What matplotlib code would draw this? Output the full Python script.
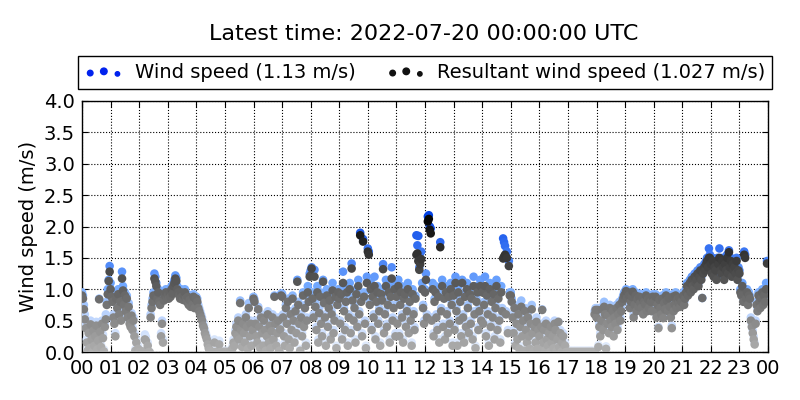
import numpy as np
import matplotlib
matplotlib.use("Agg")
import matplotlib.pyplot as plt
from matplotlib.colors import LinearSegmentedColormap

# 2-minute samples, one row of 30 values per hour (00 .. 23 UTC)
wind_speed = [
    [0.95, 0.9, 0.75, 0.6, 0.45, 0.2, 0.05, 0.35, 0.1, 0.5, 0.25, 0.02, 0.4, 0.15, 0.3,
     0.48, 0.08, 0.22, 0.85, 0.38, 0.12, 0.5, 0.28, 0.04, 0.45, 0.6, 0.8, 1.0, 1.15, 1.37],
    [1.1, 0.95, 0.85, 0.6, 0.5, 0.3, 0.9, 0.75, 1.0, 0.65, 0.85, 0.55, 1.28, 1.05, 0.8,
     0.95, 0.7, 0.9, 0.6, 0.78, 0.5, 0.45, 0.62, 0.4, 0.55, 0.3, 0.05, 0.2, 0.02, 0.1],
    [0.02, 0.0, 0.01, 0.02, 0.0, 0.01, 0.28, 0.24, 0.02, 0.15, 0.01, 0.0, 0.6, 0.75, 0.85,
     0.95, 1.25, 1.2, 1.1, 0.9, 1.0, 0.85, 0.8, 0.3, 0.5, 0.2, 0.88, 0.95, 1.0, 0.9],
    [0.95, 0.9, 1.0, 0.92, 1.05, 0.98, 1.1, 1.15, 1.22, 1.18, 1.05, 1.0, 0.95, 0.9, 1.0,
     0.92, 0.88, 0.95, 1.0, 0.9, 0.85, 0.92, 0.8, 0.88, 0.78, 0.85, 0.8, 0.92, 0.75, 0.88],
    [0.88, 0.85, 0.75, 0.7, 0.65, 0.6, 0.55, 0.48, 0.42, 0.35, 0.3, 0.25, 0.18, 0.1, 0.05,
     0.02, 0.01, 0.0, 0.02, 0.2, 0.01, 0.0, 0.02, 0.01, 0.18, 0.0, 0.02, 0.01, 0.0, 0.02],
    [0.01, 0.02, 0.0, 0.01, 0.02, 0.0, 0.03, 0.05, 0.1, 0.2, 0.15, 0.35, 0.45, 0.3, 0.55,
     0.25, 0.82, 0.4, 0.12, 0.5, 0.35, 0.2, 0.6, 0.45, 0.1, 0.78, 0.3, 0.5, 0.15, 0.4],
    [0.88, 0.84, 0.5, 0.3, 0.2, 0.72, 0.45, 0.1, 0.6, 0.35, 0.15, 0.55, 0.4, 0.05, 0.3,
     0.65, 0.2, 0.48, 0.1, 0.38, 0.6, 0.25, 0.9, 0.5, 0.15, 0.35, 0.55, 0.05, 0.42, 0.93],
    [0.93, 0.6, 0.3, 0.15, 0.75, 0.5, 0.85, 0.25, 0.1, 0.65, 0.4, 0.9, 0.55, 0.2, 0.7,
     0.35, 1.15, 0.8, 0.5, 0.05, 0.6, 0.3, 0.95, 0.45, 0.75, 0.15, 0.55, 1.05, 0.85, 1.25],
    [1.3, 1.35, 0.95, 0.6, 1.31, 0.8, 0.4, 1.05, 0.2, 0.7, 0.95, 0.5, 0.3, 1.15, 0.85,
     0.6, 0.15, 1.0, 0.45, 0.75, 0.9, 0.25, 0.65, 1.1, 0.35, 0.55, 0.95, 0.1, 0.8, 1.0],
    [0.9, 0.5, 1.0, 0.25, 1.28, 0.7, 0.4, 0.85, 1.05, 0.15, 0.6, 1.1, 0.35, 1.41, 0.9,
     0.55, 0.75, 0.2, 1.0, 0.45, 1.15, 0.65, 1.9, 0.85, 0.3, 1.8, 0.95, 0.5, 0.1, 1.2],
    [1.65, 1.6, 0.8, 1.1, 0.4, 0.95, 0.6, 1.2, 0.25, 0.85, 1.05, 0.5, 0.7, 0.15, 1.0,
     0.9, 1.4, 0.35, 0.65, 1.15, 0.45, 0.8, 1.05, 0.2, 0.95, 1.35, 0.55, 0.75, 1.1, 0.3],
    [0.95, 0.5, 1.15, 0.3, 0.8, 1.05, 0.6, 0.2, 0.9, 1.0, 0.45, 0.7, 1.1, 0.35, 0.85,
     0.55, 0.15, 1.0, 0.65, 0.4, 0.9, 1.86, 1.7, 1.85, 1.35, 1.5, 1.6, 1.1, 0.75, 0.5],
    [1.0, 1.25, 0.6, 2.16, 2.18, 2.0, 1.97, 0.55, 1.1, 0.3, 0.85, 1.05, 0.6, 0.4, 0.95,
     0.2, 1.75, 0.7, 1.15, 0.45, 0.9, 0.25, 1.05, 0.65, 0.35, 0.95, 0.5, 1.1, 0.8, 0.15],
    [0.95, 0.4, 1.2, 0.7, 0.15, 1.05, 0.55, 0.85, 0.3, 1.15, 0.6, 0.2, 0.95, 0.45, 1.1,
     0.75, 0.35, 1.0, 0.5, 0.9, 0.25, 1.2, 0.65, 0.1, 0.85, 1.05, 0.4, 0.7, 1.15, 0.55],
    [1.0, 0.5, 0.8, 1.2, 0.3, 0.95, 0.65, 0.15, 1.1, 0.45, 0.85, 0.6, 1.0, 0.25, 0.75,
     1.15, 0.4, 0.9, 0.55, 0.2, 1.05, 0.7, 1.81, 1.75, 1.69, 0.65, 1.6, 0.35, 1.45, 0.95],
    [0.95, 0.85, 0.6, 0.35, 0.75, 0.15, 0.5, 0.25, 0.65, 0.1, 0.45, 0.82, 0.3, 0.55, 0.05,
     0.7, 0.4, 0.2, 0.6, 0.3, 0.1, 0.5, 0.75, 0.35, 0.05, 0.45, 0.2, 0.55, 0.1, 0.4],
    [0.3, 0.1, 0.45, 0.68, 0.2, 0.4, 0.05, 0.5, 0.25, 0.15, 0.35, 0.02, 0.45, 0.2, 0.3,
     0.1, 0.5, 0.4, 0.05, 0.25, 0.48, 0.12, 0.35, 0.02, 0.2, 0.3, 0.05, 0.15, 0.02, 0.01],
    [0.02, 0.02, 0.01, 0.02, 0.02, 0.01, 0.02, 0.02, 0.01, 0.02, 0.02, 0.01, 0.02, 0.02, 0.01,
     0.02, 0.02, 0.01, 0.02, 0.02, 0.01, 0.02, 0.02, 0.01, 0.02, 0.02, 0.01, 0.02, 0.65, 0.7],
    [0.6, 0.7, 0.11, 0.45, 0.3, 0.55, 0.72, 0.4, 0.8, 0.65, 0.09, 0.5, 0.62, 0.35, 0.75,
     0.55, 0.45, 0.7, 0.3, 0.6, 0.5, 0.75, 0.4, 0.65, 0.8, 0.55, 0.7, 0.85, 0.9, 0.95],
    [0.96, 1.0, 0.9, 0.98, 0.95, 0.75, 0.85, 0.92, 1.0, 0.6, 0.8, 0.95, 0.7, 0.88, 0.78,
     0.93, 0.82, 0.75, 0.9, 0.65, 0.85, 0.8, 0.95, 0.7, 0.88, 0.75, 0.9, 0.85, 0.7, 0.92],
    [0.85, 0.7, 0.92, 0.6, 0.8, 0.4, 0.88, 0.75, 0.65, 0.9, 0.55, 0.82, 0.72, 0.95, 0.85,
     0.7, 0.9, 0.78, 0.6, 0.42, 0.92, 0.7, 0.8, 0.95, 0.75, 0.88, 0.82, 0.9, 0.78, 0.85],
    [0.85, 0.95, 0.8, 0.9, 1.0, 1.1, 0.95, 1.05, 1.15, 1.0, 1.2, 1.1, 1.05, 1.25, 1.15,
     1.2, 1.3, 1.1, 1.25, 1.35, 1.2, 0.86, 1.3, 1.4, 1.35, 1.45, 1.5, 1.4, 1.65, 1.55],
    [1.45, 1.3, 1.5, 1.25, 1.4, 1.35, 1.2, 1.5, 1.45, 1.65, 1.35, 1.3, 1.5, 1.4, 1.2,
     1.45, 1.35, 1.55, 1.3, 1.62, 1.4, 1.5, 1.25, 1.45, 1.35, 1.4, 1.3, 1.5, 1.2, 1.35],
    [1.3, 1.0, 0.95, 1.1, 0.85, 1.6, 1.55, 0.9, 1.0, 0.8, 0.95, 0.9, 0.55, 0.45, 0.35,
     0.25, 0.15, 0.5, 0.8, 0.7, 0.95, 0.85, 0.75, 0.9, 1.0, 0.8, 0.95, 0.85, 1.1, 1.45],
]

resultant_speed = [
    [0.9, 0.85, 0.68, 0.52, 0.38, 0.15, 0.02, 0.3, 0.06, 0.44, 0.2, 0.0, 0.34, 0.1, 0.25,
     0.42, 0.04, 0.18, 0.84, 0.32, 0.08, 0.45, 0.22, 0.01, 0.4, 0.52, 0.75, 0.92, 1.13, 1.28],
    [1.0, 0.88, 0.8, 0.55, 0.45, 0.25, 0.85, 0.7, 0.92, 0.6, 0.8, 0.5, 1.17, 0.98, 0.75,
     0.9, 0.65, 0.85, 0.55, 0.72, 0.45, 0.4, 0.58, 0.35, 0.5, 0.25, 0.02, 0.15, 0.0, 0.05],
    [0.0, 0.0, 0.0, 0.01, 0.0, 0.0, 0.2, 0.18, 0.0, 0.1, 0.0, 0.0, 0.55, 0.7, 0.8,
     0.9, 1.17, 1.12, 1.05, 0.85, 0.95, 0.8, 0.75, 0.25, 0.45, 0.15, 0.82, 0.9, 0.95, 0.85],
    [0.9, 0.85, 0.95, 0.88, 1.0, 0.93, 1.05, 1.1, 1.17, 1.13, 1.0, 0.95, 0.9, 0.85, 0.95,
     0.88, 0.83, 0.9, 0.95, 0.85, 0.8, 0.88, 0.75, 0.83, 0.72, 0.8, 0.75, 0.88, 0.7, 0.85],
    [0.85, 0.8, 0.7, 0.65, 0.6, 0.55, 0.5, 0.42, 0.38, 0.3, 0.25, 0.2, 0.12, 0.06, 0.02,
     0.0, 0.0, 0.0, 0.0, 0.15, 0.0, 0.0, 0.0, 0.0, 0.12, 0.0, 0.0, 0.0, 0.0, 0.0],
    [0.0, 0.0, 0.0, 0.0, 0.0, 0.0, 0.01, 0.02, 0.06, 0.15, 0.1, 0.3, 0.4, 0.25, 0.5,
     0.2, 0.78, 0.35, 0.08, 0.45, 0.3, 0.15, 0.55, 0.4, 0.05, 0.7, 0.25, 0.45, 0.1, 0.35],
    [0.85, 0.8, 0.45, 0.25, 0.15, 0.68, 0.4, 0.06, 0.55, 0.3, 0.1, 0.5, 0.35, 0.02, 0.25,
     0.6, 0.15, 0.42, 0.06, 0.33, 0.55, 0.2, 0.88, 0.45, 0.1, 0.3, 0.5, 0.02, 0.36, 0.9],
    [0.88, 0.55, 0.25, 0.1, 0.7, 0.45, 0.8, 0.2, 0.06, 0.6, 0.35, 0.85, 0.5, 0.15, 0.65,
     0.3, 1.12, 0.75, 0.45, 0.02, 0.55, 0.25, 0.9, 0.4, 0.7, 0.1, 0.5, 0.95, 0.8, 1.2],
    [1.22, 1.33, 0.85, 0.55, 1.2, 0.72, 0.35, 0.95, 0.15, 0.62, 0.88, 0.45, 0.25, 1.12, 0.78,
     0.55, 0.1, 0.9, 0.4, 0.7, 0.82, 0.2, 0.6, 0.98, 0.3, 0.5, 0.88, 0.06, 0.75, 0.95],
    [0.85, 0.45, 0.92, 0.2, 1.1, 0.65, 0.35, 0.8, 0.95, 0.1, 0.55, 1.0, 0.3, 1.33, 0.82,
     0.5, 0.7, 0.15, 0.92, 0.4, 1.05, 0.6, 1.86, 0.8, 0.25, 1.76, 0.88, 0.45, 0.06, 1.1],
    [1.6, 1.55, 0.75, 1.0, 0.35, 0.88, 0.55, 1.05, 0.2, 0.8, 0.95, 0.45, 0.65, 0.1, 0.92,
     0.82, 1.32, 0.3, 0.6, 1.05, 0.4, 0.75, 0.95, 0.15, 0.88, 1.17, 0.5, 0.7, 1.0, 0.25],
    [0.88, 0.45, 1.05, 0.25, 0.75, 0.95, 0.55, 0.15, 0.85, 0.92, 0.4, 0.65, 1.0, 0.3, 0.8,
     0.5, 0.1, 0.92, 0.6, 0.35, 0.85, 1.55, 1.57, 1.45, 1.31, 1.4, 1.48, 1.0, 0.7, 0.45],
    [0.95, 1.15, 0.55, 2.08, 2.12, 1.95, 1.89, 0.5, 1.0, 0.25, 0.8, 0.95, 0.55, 0.35, 0.88,
     0.15, 1.67, 0.65, 1.05, 0.4, 0.85, 0.2, 0.95, 0.6, 0.3, 0.88, 0.45, 1.0, 0.75, 0.1],
    [0.9, 0.35, 1.1, 0.65, 0.1, 0.95, 0.5, 0.8, 0.25, 1.1, 0.55, 0.15, 0.88, 0.4, 1.0,
     0.7, 0.3, 0.92, 0.45, 0.85, 0.2, 1.05, 0.6, 0.06, 0.8, 0.95, 0.35, 0.65, 1.05, 0.5],
    [0.95, 0.45, 0.75, 1.05, 0.25, 0.9, 0.6, 0.1, 1.0, 0.4, 0.8, 0.55, 0.92, 0.2, 0.7,
     1.05, 0.35, 0.85, 0.5, 0.15, 0.95, 0.65, 1.49, 1.52, 1.55, 0.6, 1.5, 0.3, 1.37, 0.9],
    [0.9, 0.8, 0.55, 0.3, 0.7, 0.1, 0.45, 0.2, 0.6, 0.05, 0.4, 0.72, 0.25, 0.5, 0.02,
     0.65, 0.35, 0.15, 0.55, 0.25, 0.05, 0.45, 0.68, 0.3, 0.02, 0.4, 0.15, 0.48, 0.05, 0.35],
    [0.25, 0.05, 0.4, 0.67, 0.15, 0.35, 0.02, 0.45, 0.2, 0.1, 0.3, 0.0, 0.4, 0.15, 0.25,
     0.06, 0.45, 0.35, 0.02, 0.2, 0.48, 0.08, 0.3, 0.0, 0.15, 0.25, 0.02, 0.1, 0.0, 0.0],
    [0.0, 0.0, 0.0, 0.0, 0.0, 0.0, 0.0, 0.0, 0.0, 0.0, 0.0, 0.0, 0.0, 0.0, 0.0,
     0.0, 0.0, 0.0, 0.0, 0.0, 0.0, 0.0, 0.0, 0.0, 0.0, 0.0, 0.0, 0.0, 0.6, 0.67],
    [0.55, 0.67, 0.08, 0.4, 0.25, 0.5, 0.68, 0.35, 0.72, 0.6, 0.05, 0.45, 0.58, 0.3, 0.7,
     0.5, 0.4, 0.65, 0.25, 0.55, 0.45, 0.7, 0.35, 0.6, 0.75, 0.5, 0.65, 0.8, 0.85, 0.9],
    [0.92, 0.97, 0.86, 0.95, 0.9, 0.7, 0.8, 0.88, 0.96, 0.55, 0.75, 0.9, 0.65, 0.84, 0.72,
     0.88, 0.78, 0.7, 0.86, 0.6, 0.8, 0.76, 0.9, 0.65, 0.84, 0.7, 0.86, 0.8, 0.65, 0.88],
    [0.8, 0.65, 0.88, 0.55, 0.75, 0.38, 0.83, 0.7, 0.6, 0.85, 0.54, 0.78, 0.68, 0.9, 0.82,
     0.65, 0.86, 0.72, 0.55, 0.38, 0.88, 0.65, 0.76, 0.9, 0.7, 0.84, 0.78, 0.86, 0.72, 0.8],
    [0.8, 0.9, 0.75, 0.85, 0.95, 1.05, 0.9, 1.0, 1.1, 0.95, 1.15, 1.05, 1.0, 1.2, 1.1,
     1.15, 1.25, 1.05, 1.2, 1.3, 1.15, 0.86, 1.25, 1.35, 1.3, 1.4, 1.45, 1.35, 1.5, 1.5],
    [1.4, 1.25, 1.45, 1.2, 1.35, 1.3, 1.15, 1.45, 1.4, 1.5, 1.3, 1.25, 1.45, 1.35, 1.15,
     1.4, 1.3, 1.5, 1.25, 1.59, 1.35, 1.45, 1.2, 1.4, 1.3, 1.35, 1.25, 1.45, 1.15, 1.3],
    [1.25, 0.95, 0.9, 1.05, 0.8, 1.55, 1.5, 0.85, 0.95, 0.75, 0.9, 0.85, 0.5, 0.4, 0.3,
     0.2, 0.12, 0.45, 0.75, 0.65, 0.9, 0.8, 0.7, 0.85, 0.95, 0.75, 0.9, 0.8, 1.0, 1.41],
]

hour_labels = ["%02d" % h for h in range(24)] + ["00"]
title = "Latest time: 2022-07-20 00:00:00 UTC"
ws_label = "Wind speed (1.13 m/s)"
rws_label = "Resultant wind speed (1.027 m/s)"

ws = np.array(wind_speed).ravel()
rws = np.array(resultant_speed).ravel()
# time of each sample in hours
t = np.arange(len(ws)) * 2 / 60.0

blue_cmap = LinearSegmentedColormap.from_list(
    "ws", [(0.0, "#e6eefc"), (0.3, "#b4cffd"), (0.47, "#72a9ff"), (1.0, "#0040e6")])
grey_cmap = LinearSegmentedColormap.from_list("rws", ["#b0b0b0", "#000000"])

fig = plt.figure(figsize=(8, 4), dpi=100)
ax = fig.add_axes([0.1025, 0.12, 0.8575, 0.6275])

ax.scatter(t, ws, c=ws, cmap=blue_cmap, vmin=0, vmax=2.2, s=38,
           edgecolors="none", zorder=3)
ax.scatter(t, rws, c=rws, cmap=grey_cmap, vmin=0, vmax=2.2, s=38,
           edgecolors="none", zorder=4)

ax.set_xlim(0, 24)
ax.set_ylim(0, 4)
ax.set_xticks(range(25))
ax.set_xticklabels(hour_labels)
ax.set_yticks(np.arange(0, 4.01, 0.5))
ax.set_yticklabels(["%.1f" % v for v in np.arange(0, 4.01, 0.5)])
ax.tick_params(direction="in", top=True, right=True, length=4,
               labelsize=14, pad=5)
ax.grid(True, linestyle=":", color="k", linewidth=0.8)
ax.set_axisbelow(True)
for sp in ax.spines.values():
    sp.set_linewidth(1.0)
ax.set_ylabel("Wind speed (m/s)", fontsize=14)

# legend proxies (invisible points), three dots of different size like the old scatter legend
h1 = ax.scatter([np.nan, np.nan], [np.nan, np.nan], s=[10, 22], color="#0022ee")
h2 = ax.scatter([np.nan, np.nan], [np.nan, np.nan], s=[10, 22], color="#111111")
leg = ax.legend([h1, h2], [ws_label, rws_label], ncol=2, scatterpoints=3,
                loc="lower center", bbox_to_anchor=(0.5, 1.048),
                borderaxespad=0, fontsize=14, fancybox=False,
                framealpha=1, edgecolor="k", handletextpad=0.6,
                columnspacing=1.6, borderpad=0.35)
leg.get_frame().set_linewidth(1.0)

fig.text(0.53, 1 - 34 / 400, title, ha="center", va="center", fontsize=16)

fig.savefig("out.png", dpi=100)
